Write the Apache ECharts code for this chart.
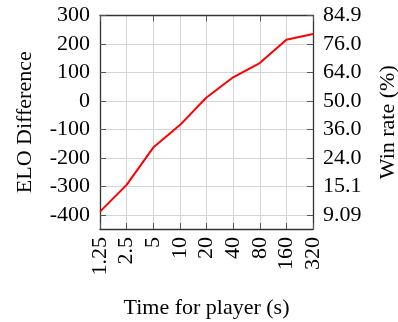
<!DOCTYPE html>
<html>
<head>
<meta charset="utf-8">
<script src="https://cdn.jsdelivr.net/npm/echarts@6/dist/echarts.min.js"></script>
<style>html,body{margin:0;padding:0;background:#fff}#c{width:398px;height:322px}</style>
</head>
<body>
<div id="c"></div>
<script>
const categories = ['1.25','2.5','5','10','20','40','80','160','320'];
const eloDiff = [-389, -295, -164, -85, 12, 83, 133, 215, 235];
const eloTicks = [-400, -300, -200, -100, 0, 100, 200, 300];
const winRateLabels = ['9.09','15.1','24.0','36.0','50.0','64.0','76.0','84.9'];

const font = 'Liberation Serif';
const fs = 22;
const chart = echarts.init(document.getElementById('c'), null, {renderer:'canvas'});
const tickStyle = {show:true, inside:true, length:6, lineStyle:{color:'#555', width:1}};
const gridLine = {show:true, lineStyle:{color:'#d4d4d4', width:1}};
const axisLine = {show:true, onZero:false, lineStyle:{color:'#333', width:1.3}};
chart.setOption({
  animation:false,
  grid:{left:100, right:85, top:15.5, bottom:93, containLabel:false, outerBoundsMode:'none'},
  xAxis:[{
    type:'category', data:categories, boundaryGap:false, position:'bottom',
    axisLine:axisLine,
    axisTick:Object.assign({alignWithLabel:true}, tickStyle),
    splitLine:gridLine,
    axisLabel:{rotate:90, margin:8, fontFamily:font, fontSize:fs, color:'#000', interval:0},
    name:'Time for player (s)', nameLocation:'middle', nameGap:68,
    nameTextStyle:{fontFamily:font, fontSize:fs, color:'#000'}
  },{
    type:'category', data:categories, boundaryGap:false, position:'top',
    axisLine:axisLine,
    axisTick:tickStyle, axisLabel:{show:false}, splitLine:{show:false}
  }],
  yAxis:[{
    type:'value', min:-450, max:300, position:'left',
    axisLine:axisLine,
    axisTick:Object.assign({customValues:eloTicks}, tickStyle),
    splitLine:gridLine,
    axisLabel:{customValues:eloTicks, margin:10, fontFamily:font, fontSize:fs, color:'#000'},
    name:'ELO Difference', nameLocation:'middle', nameRotate:90, nameGap:64,
    nameTextStyle:{fontFamily:font, fontSize:fs, color:'#000'}
  },{
    type:'value', min:-450, max:300, position:'right',
    axisLine:axisLine,
    axisTick:Object.assign({customValues:eloTicks}, tickStyle),
    splitLine:{show:false},
    axisLabel:{customValues:eloTicks, margin:10, fontFamily:font, fontSize:fs, color:'#000',
      formatter:function(v){const i=eloTicks.indexOf(v);return i>=0?winRateLabels[i]:'';}},
    name:'Win rate (%)', nameLocation:'middle', nameRotate:90, nameGap:64,
    nameTextStyle:{fontFamily:font, fontSize:fs, color:'#000'}
  }],
  series:[{
    type:'line', data:eloDiff, xAxisIndex:0, yAxisIndex:0,
    showSymbol:false, symbol:'none',
    lineStyle:{color:'#ff0000', width:2}
  }]
});
</script>
</body>
</html>
